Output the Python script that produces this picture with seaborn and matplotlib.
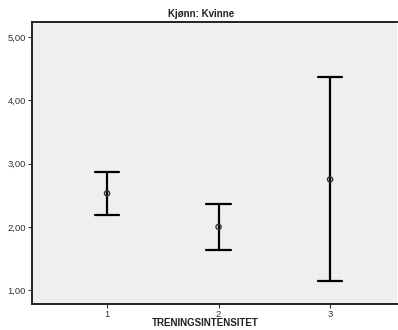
import matplotlib
matplotlib.use("Agg")
import matplotlib.pyplot as plt
import seaborn as sns
import pandas as pd

# Data: interval per training intensity
categories = [1, 2, 3]
means = [2.53, 2.00, 2.75]
lower = [2.19, 1.63, 1.14]
upper = [2.87, 2.36, 4.37]
y_ticks = [1.0, 2.0, 3.0, 4.0, 5.0]
y_tick_labels = ["1,00", "2,00", "3,00", "4,00", "5,00"]
x_tick_labels = ["1", "2", "3"]
title = "Kjønn: Kvinne"
xlabel = "TRENINGSINTENSITET"

rows = []
for c, lo, m, hi in zip(categories, lower, means, upper):
    for v in (lo, m, hi):
        rows.append({"grp": c, "val": v})
df = pd.DataFrame(rows)
df_mean = pd.DataFrame({"grp": categories, "val": means})

sns.set_theme(style="white")
plt.rcParams["font.family"] = ["Liberation Sans", "DejaVu Sans"]

fig = plt.figure(figsize=(3.98, 3.30), dpi=100)
ax = fig.add_axes([32/398, 26/330, 365/398, 282/330])
ax.set_facecolor("#efefef")

sns.pointplot(data=df, x="grp", y="val", estimator="median",
              errorbar=("pi", 100), native_scale=True, capsize=0.22,
              color="black", linestyle="none", markers="", ax=ax,
              err_kws={"linewidth": 1.6})
sns.scatterplot(data=df_mean, x="grp", y="val", marker="o", s=14,
                facecolor="none", edgecolor="#333333", linewidth=1.0,
                ax=ax, zorder=5)

ax.set_xlim(0.327, 3.60)
ax.set_ylim(0.78, 5.24)
ax.set_xticks(categories)
ax.set_xticklabels(x_tick_labels)
ax.set_yticks(y_ticks)
ax.set_yticklabels(y_tick_labels)
ax.tick_params(axis="both", which="major", length=3, width=0.8, color="#333333",
               labelsize=6.8, labelcolor="#333333", pad=1.5, direction="out",
               bottom=True, left=True)
ax.set_xlabel("")
ax.set_ylabel("")

for side in ("left", "bottom", "top"):
    ax.spines[side].set_visible(True)
    ax.spines[side].set_color("#222222")
    ax.spines[side].set_linewidth(1.4)
ax.spines["right"].set_visible(False)

fig.text(201/398, 1 - 14/330, title, ha="center", va="center",
         fontsize=7, fontweight="bold", color="#222222")
fig.text(205/398, 1 - 323/330, xlabel, ha="center", va="center",
         fontsize=7, fontweight="bold", color="#222222")

fig.savefig("out.png", dpi=100)
